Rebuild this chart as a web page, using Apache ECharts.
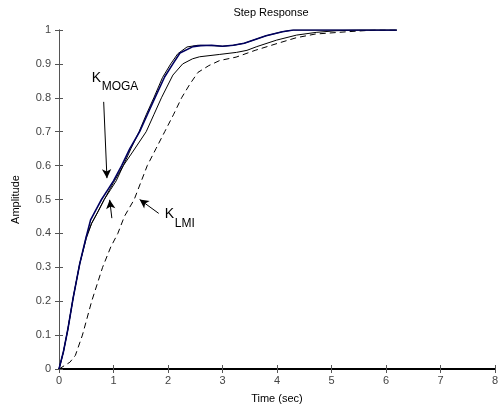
<!DOCTYPE html>
<html>
<head>
<meta charset="utf-8">
<script src="https://cdn.jsdelivr.net/npm/echarts@6/dist/echarts.min.js"></script>
<style>
  html, body { margin: 0; padding: 0; background: #fff; }
  #chart { width: 501px; height: 412px; }
</style>
</head>
<body>
<div id="chart"></div>
<script>
// step responses, [time, amplitude]
var mogaNavy = [[0,0],[0.08,0.05],[0.16,0.115],[0.26,0.21],[0.38,0.31],[0.5,0.39],[0.58,0.44],[0.68,0.47],
  [0.78,0.5],[0.9,0.53],[1.0,0.555],[1.15,0.6],[1.3,0.65],[1.48,0.7],[1.62,0.75],[1.76,0.8],[1.94,0.862],
  [2.09,0.9],[2.22,0.932],[2.46,0.951],[2.6,0.954],[2.8,0.955],[3.0,0.952],[3.2,0.955],[3.4,0.961],
  [3.6,0.972],[3.8,0.983],[4.1,0.995],[4.3,1.0],[6.2,1.0]];
var mogaBlack = [[0,0],[0.08,0.05],[0.16,0.115],[0.26,0.21],[0.38,0.31],[0.5,0.385],[0.6,0.43],[0.72,0.465],
  [0.83,0.5],[0.95,0.53],[1.05,0.555],[1.18,0.6],[1.32,0.65],[1.47,0.7],[1.6,0.75],[1.74,0.8],[1.9,0.86],
  [2.05,0.9],[2.18,0.93],[2.35,0.95],[2.55,0.955],[2.8,0.954],[3.0,0.952],[3.2,0.955],[3.4,0.961],
  [3.6,0.972],[3.8,0.983],[4.1,0.995],[4.3,1.0],[6.2,1.0]];
var thirdResp = [[0,0],[0.08,0.05],[0.16,0.115],[0.26,0.21],[0.38,0.31],[0.5,0.39],[0.6,0.43],[0.7,0.46],
  [0.83,0.5],[1.0,0.55],[1.18,0.6],[1.35,0.64],[1.6,0.7],[1.74,0.75],[1.88,0.8],[2.09,0.867],[2.27,0.9],
  [2.45,0.915],[2.58,0.921],[2.95,0.928],[3.26,0.934],[3.45,0.94],[3.63,0.951],[3.99,0.97],[4.36,0.985],
  [4.72,0.993],[5.1,0.998],[5.5,1.0],[6.2,1.0]];
var lmiResp = [[0,0],[0.2,0.02],[0.3,0.04],[0.43,0.1],[0.6,0.2],[0.7,0.25],[0.8,0.3],[0.95,0.36],[1.08,0.4],
  [1.2,0.45],[1.38,0.5],[1.5,0.55],[1.62,0.6],[1.78,0.65],[1.94,0.7],[2.1,0.75],[2.25,0.8],[2.4,0.84],
  [2.55,0.875],[2.75,0.895],[2.95,0.91],[3.25,0.92],[3.6,0.94],[4.0,0.96],[4.35,0.977],[4.7,0.988],
  [5.3,0.995],[5.8,1.0],[6.2,1.0]];

// annotation arrows (tail -> head) and label anchors, in data units
var arrowMoga = [[0.82,0.788],[0.88,0.563]];
var arrowSecond = [[0.97,0.445],[0.93,0.499]];
var arrowLmi = [[1.83,0.459],[1.48,0.5]];
var labelMoga = [0.6, 0.838];
var labelLmi = [1.94, 0.435];

var font = '"Liberation Sans", Arial, sans-serif';
var axisGrey = '#555';
var chart = echarts.init(document.getElementById('chart'));

function arrow(pair) {
  return [{coord: pair[0]}, {coord: pair[1]}];
}

var option = {
  animation: false,
  title: {
    text: 'Step Response',
    left: 266, top: 2, textAlign: 'center',
    textStyle: {fontFamily: font, fontSize: 11, fontWeight: 'normal', color: '#000'}
  },
  grid: {left: 59, right: 4, top: 30, bottom: 43},
  xAxis: [
    {
      type: 'value', min: 0, max: 8, interval: 1,
      name: 'Time (sec)', nameLocation: 'middle', nameGap: 24,
      nameTextStyle: {fontFamily: font, fontSize: 11, color: '#000'},
      axisLine: {show: true, lineStyle: {color: axisGrey, width: 1}},
      axisTick: {inside: true, length: 4, lineStyle: {color: axisGrey}},
      axisLabel: {fontFamily: font, fontSize: 11, color: '#444', margin: 6},
      splitLine: {show: false}
    },
    {
      type: 'value', min: 0, max: 8, interval: 1, position: 'top',
      axisLine: {show: true, lineStyle: {color: '#000', width: 2}},
      axisTick: {inside: true, length: 4, lineStyle: {color: axisGrey}},
      axisLabel: {show: false},
      splitLine: {show: false}
    }
  ],
  yAxis: [
    {
      type: 'value', min: 0, max: 1, interval: 0.1,
      name: 'Amplitude', nameLocation: 'middle', nameGap: 38, nameRotate: 90,
      nameTextStyle: {fontFamily: font, fontSize: 11, color: '#000'},
      axisLine: {show: true, lineStyle: {color: axisGrey, width: 1}},
      axisTick: {inside: true, length: 4, lineStyle: {color: axisGrey}},
      axisLabel: {fontFamily: font, fontSize: 11, color: '#444', margin: 8,
        formatter: function (v) { return +v.toFixed(1) + ''; }},
      splitLine: {show: false}
    },
    {
      type: 'value', min: 0, max: 1, interval: 0.1, position: 'right',
      axisLine: {show: true, lineStyle: {color: axisGrey, width: 1}},
      axisTick: {inside: true, length: 4, lineStyle: {color: axisGrey}},
      axisLabel: {show: false},
      splitLine: {show: false}
    }
  ],
  series: [
    {
      name: 'LMI', type: 'line', data: lmiResp, symbol: 'none',
      lineStyle: {color: '#000', width: 1, type: [6, 4]}
    },
    {
      name: 'third', type: 'line', data: thirdResp, symbol: 'none',
      lineStyle: {color: '#000', width: 1}
    },
    {
      name: 'MOGA black', type: 'line', data: mogaBlack, symbol: 'none',
      lineStyle: {color: '#000', width: 1}
    },
    {
      name: 'MOGA', type: 'line', data: mogaNavy, symbol: 'none',
      lineStyle: {color: '#000060', width: 1.6},
      markLine: {
        silent: true,
        symbol: ['none', 'arrow'],
        symbolSize: [7, 9],
        label: {show: false},
        lineStyle: {color: '#000', width: 1, type: 'solid'},
        data: [arrow(arrowMoga), arrow(arrowSecond), arrow(arrowLmi)]
      }
    }
  ]
};
chart.setOption(option);

function subLabel(anchor, main, sub) {
  var p = chart.convertToPixel({gridIndex: 0}, anchor);
  return [
    {type: 'text', x: p[0], y: p[1], style: {text: main, font: '14px ' + font, fill: '#000',
      textVerticalAlign: 'bottom'}},
    {type: 'text', x: p[0] + 10, y: p[1] + 8, style: {text: sub, font: '12px ' + font, fill: '#000',
      textVerticalAlign: 'bottom'}}
  ];
}

chart.setOption({
  graphic: subLabel(labelMoga, 'K', 'MOGA').concat(subLabel(labelLmi, 'K', 'LMI'))
});
</script>
</body>
</html>
